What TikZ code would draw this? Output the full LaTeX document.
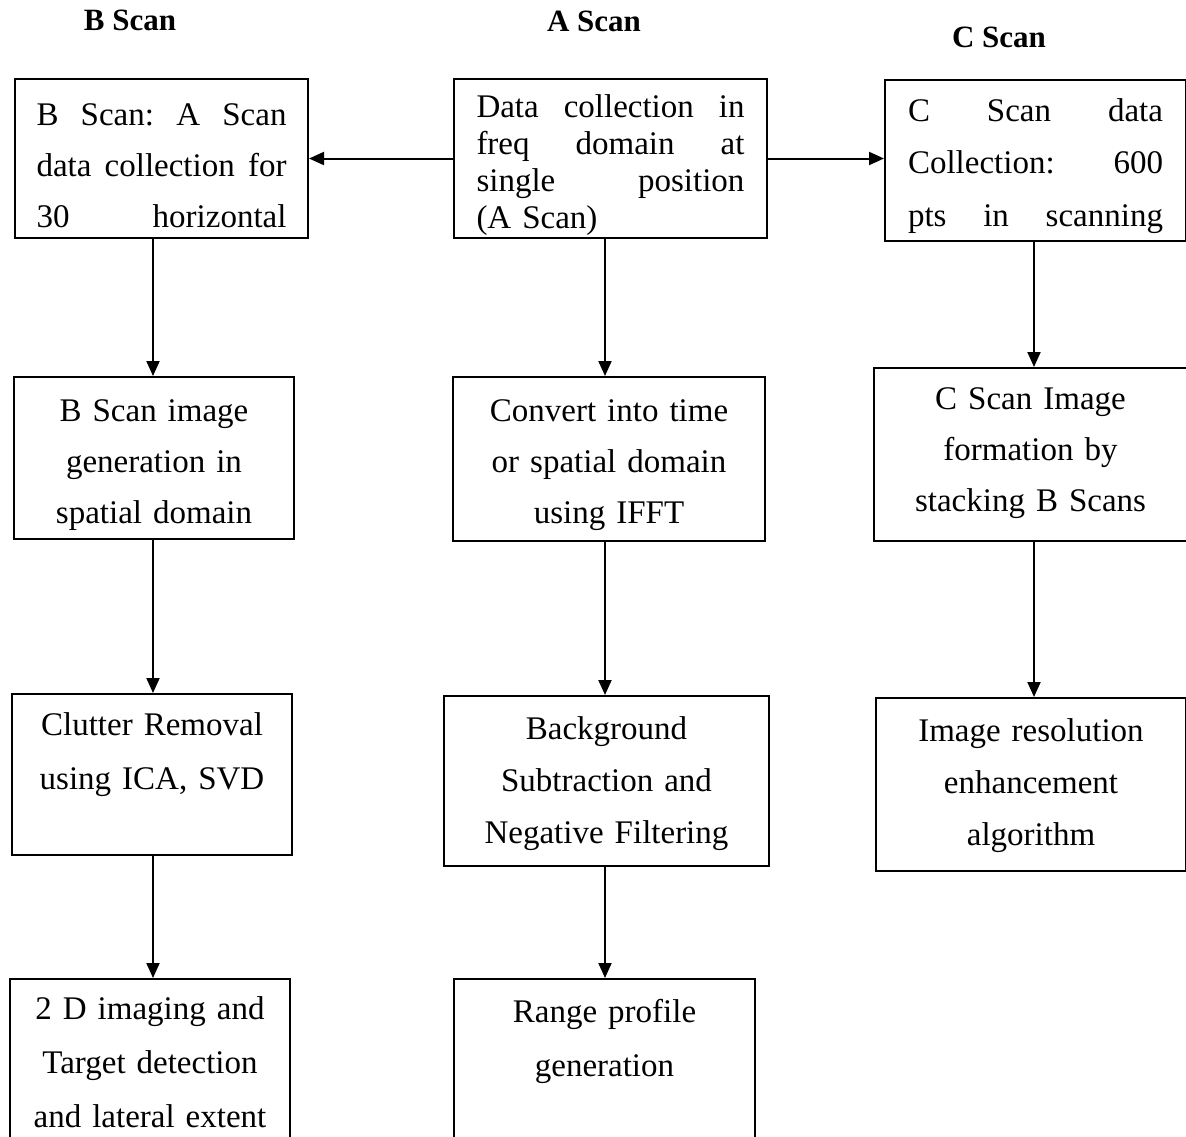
\documentclass[tikz,border=0pt]{standalone}
\usepackage{fontspec}
\setmainfont{Liberation Serif}
\usetikzlibrary{arrows.meta}
\newcommand\stagefont{\fontsize{33}{51}\selectfont}
% a line spread out to a given width (words separated by \hfill)
\newcommand\justline[2]{\makebox[#1]{#2}}
\begin{document}
\begin{tikzpicture}[x=1pt,y=-1pt,
  stage/.style={draw, line width=2pt, inner sep=0pt, anchor=north west, font=\stagefont},
  flow/.style={line width=2pt, -{Triangle[length=15pt,width=13pt]}},
  heading/.style={font=\fontsize{31}{31}\selectfont\bfseries, inner sep=0pt}]
\clip (0,0) rectangle (1186,1136);
\fill[white] (0,0) rectangle (1186,1136);

% column headings
\node[heading] (hb) at (130,20) {B Scan};
\node[heading] (ha) at (594,21) {A Scan};
\node[heading] (hc) at (999,37) {C Scan};

% top row: data collection
\node[stage, minimum width=293pt, text width=250pt, text height=46pt, text depth=113pt] (b1) at (14,78)
  {\justline{250pt}{B\hfill Scan:\hfill A\hfill Scan}\\
   \justline{250pt}{data\hfill collection\hfill for}\\
   \justline{250pt}{30\hfill horizontal}};
\node[stage, minimum width=313pt, text width=268pt, text height=38pt, text depth=121pt,
  font=\fontsize{33}{37}\selectfont] (a1) at (453,78)
  {\justline{268pt}{Data\hfill collection\hfill in}\\
   \justline{268pt}{freq\hfill domain\hfill at}\\
   \justline{268pt}{single\hfill position}\\
   \justline{268pt}{(A Scan)\hfill}};
\node[stage, minimum width=301pt, text width=255pt, text height=41pt, text depth=120pt,
  font=\fontsize{33}{52.5}\selectfont] (c1) at (884,79)
  {\justline{255pt}{C\hfill Scan\hfill data}\\
   \justline{255pt}{Collection:\hfill 600}\\
   \justline{255pt}{pts\hfill in\hfill scanning}};

% second row
\node[stage, minimum width=280pt, text width=260pt, text height=44pt, text depth=118pt] (b2) at (13,376)
  {\centering B Scan image\\ generation in\\ spatial domain\par};
\node[stage, minimum width=312pt, text width=290pt, text height=44pt, text depth=120pt,
  font=\fontsize{33}{51}\selectfont] (a2) at (452,376)
  {\centering Convert into time\\ or spatial domain\\ using IFFT\par};
\node[stage, minimum width=313pt, text width=290pt, text height=41pt, text depth=132pt,
  font=\fontsize{33}{51}\selectfont] (c2) at (873,367)
  {\centering C Scan Image\\ formation by\\ stacking B Scans\par};

% third row
\node[stage, minimum width=280pt, text width=260pt, text height=41pt, text depth=120pt,
  font=\fontsize{33}{54}\selectfont] (b3) at (11,693)
  {\centering Clutter Removal\\ using ICA, SVD\par};
\node[stage, minimum width=325pt, text width=300pt, text height=43pt, text depth=127pt,
  font=\fontsize{33}{52}\selectfont] (a3) at (443,695)
  {\centering Background\\ Subtraction and\\ Negative Filtering\par};
\node[stage, minimum width=310pt, text width=290pt, text height=43pt, text depth=130pt,
  font=\fontsize{33}{52}\selectfont] (c3) at (875,697)
  {\centering Image resolution\\ enhancement\\ algorithm\par};

% bottom row
\node[stage, minimum width=280pt, text width=265pt, text height=40pt, text depth=180pt,
  font=\fontsize{33}{54}\selectfont] (b4) at (9,978)
  {\centering 2 D imaging and\\ Target detection\\ and lateral extent\par};
\node[stage, minimum width=301pt, text width=280pt, text height=43pt, text depth=180pt,
  font=\fontsize{33}{54}\selectfont] (a4) at (453,978)
  {\centering Range profile\\ generation\par};

% connector columns
\coordinate (xb) at (153,0);
\coordinate (xa) at (605,0);
\coordinate (xc) at (1034,0);

% connectors
\draw[flow] (a1.west) -- (a1.west -| b1.east);
\draw[flow] (a1.east) -- (a1.east -| c1.west);
\draw[flow] (b1.south -| xb) -- (b2.north -| xb);
\draw[flow] (b2.south -| xb) -- (b3.north -| xb);
\draw[flow] (b3.south -| xb) -- (b4.north -| xb);
\draw[flow] (a1.south -| xa) -- (a2.north -| xa);
\draw[flow] (a2.south -| xa) -- (a3.north -| xa);
\draw[flow] (a3.south -| xa) -- (a4.north -| xa);
\draw[flow] (c1.south -| xc) -- (c2.north -| xc);
\draw[flow] (c2.south -| xc) -- (c3.north -| xc);
\end{tikzpicture}
\end{document}
